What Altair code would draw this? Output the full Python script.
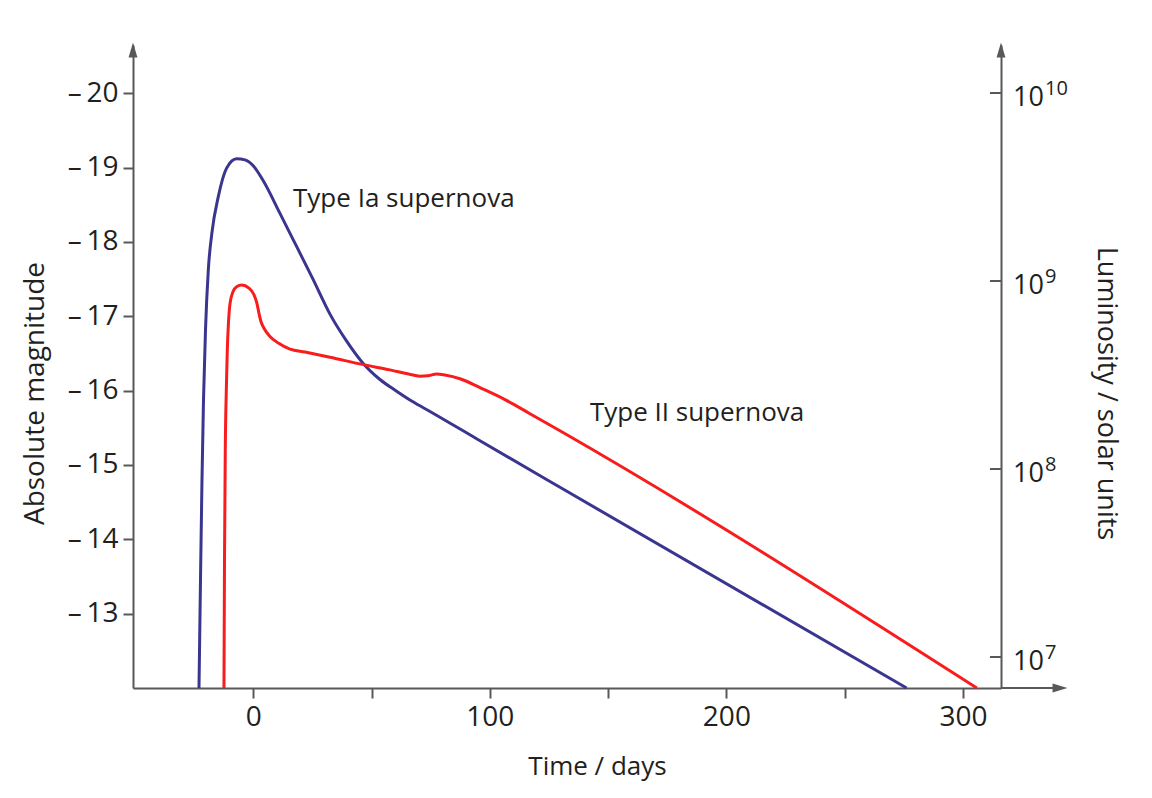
import altair as alt
import pandas as pd

# ---------------- data ----------------
ia_day = [-22.95, -22.32, -21.69, -21.05, -20.21, -19.02, -17.46, -14.79, -11.33, -7.02,
          -3.51, -0.13, 4.10, 11.28, 18.47, 25.23, 32.42, 39.61, 46.37, 53.56, 60.74,
          67.51, 74.70, 94.57, 129.65, 276.2]
ia_mag = [-12.0, -13.45, -14.79, -15.87, -16.81, -17.62, -18.13, -18.61, -18.99, -19.12,
          -19.105, -19.03, -18.83, -18.385, -17.93, -17.50, -17.03, -16.66, -16.37, -16.15, -15.99,
          -15.85, -15.72, -15.35, -14.70, -12.0]

ii_day = [-12.39, -12.17, -11.84, -11.41, -10.99, -10.48, -9.85, -8.58, -6.89, -4.90,
          -1.82, 0.30, 1.56, 2.41, 3.25, 4.52, 7.06, 10.57, 15.51, 21.85, 32.42, 46.50,
          57.78, 67.63, 70.46, 73.85, 77.52, 81.03, 87.37, 95.83, 106.40, 116.97, 129.65, 305.91]
ii_mag = [-12.0, -13.715, -15.195, -16.00, -16.54, -16.92, -17.17, -17.33, -17.40, -17.42,
          -17.38, -17.29, -17.17, -17.04, -16.93, -16.84, -16.73, -16.64, -16.56, -16.52, -16.45, -16.35,
          -16.28, -16.21, -16.195, -16.20, -16.225, -16.21, -16.16, -16.04, -15.88, -15.69, -15.46, -12.0]

series_names = ["Type Ia", "Type II"]
series_colors = ["#3a358f", "#f81c1c"]

x_tick_values = [0, 50, 100, 150, 200, 250, 300]
mag_tick_values = [-13, -14, -15, -16, -17, -18, -19, -20]
lum_tick_values = [1e7, 1e8, 1e9, 1e10]
lum_exponents = ["7", "8", "9", "10"]

curve_labels = ["Type Ia supernova", "Type II supernova"]
curve_label_day = [16.8, 142.3]
curve_label_mag = [-18.47, -15.59]

# ---------------- layout ----------------
W, H = 868, 643
GRAY = "#585858"
TXT = "#231f20"
FONT = "Open Sans"

curves = pd.DataFrame(
    [{"day": d, "mag": m, "series": series_names[0]} for d, m in zip(ia_day, ia_mag)]
    + [{"day": d, "mag": m, "series": series_names[1]} for d, m in zip(ii_day, ii_mag)]
)
labels_df = pd.DataFrame({"day": curve_label_day, "mag": curve_label_mag, "text": curve_labels})
lum_df = pd.DataFrame({"lum": lum_tick_values, "exp": lum_exponents})
one = lum_df.head(1)

xscale = alt.Scale(domain=[-50.85, 316.1], nice=False, zero=False)
yscale = alt.Scale(domain=[-12.0, -20.65], nice=False, zero=False)
lumscale = alt.Scale(type="log", domain=[10 ** 6.8351, 10 ** 10.2553], nice=False)

x_axis = alt.Axis(
    values=x_tick_values, labelExpr="datum.value % 100 == 0 ? datum.label : ''",
    title="Time / days", tickSize=10, tickWidth=2, tickColor=GRAY,
    domainColor=GRAY, domainWidth=2, grid=False, labelFlush=False, labelOverlap=False,
    labelFont=FONT, labelFontSize=28, labelColor=TXT, labelPadding=5,
    titleFont=FONT, titleFontSize=26, titleFontWeight="normal", titleColor=TXT,
    titleX=464, titleY=78, titleAlign="center", titleBaseline="middle",
)
y_axis = alt.Axis(
    values=mag_tick_values, title="Absolute magnitude", tickSize=10, tickWidth=2,
    tickColor=GRAY, domainColor=GRAY, domainWidth=2, grid=False, labelOverlap=False,
    labelFlush=False, labelFont=FONT, labelFontSize=28, labelColor=TXT, labelPadding=5,
    labelExpr="'\u2013\u2009' + abs(datum.value)",
    titleFont=FONT, titleFontSize=28, titleFontWeight="normal", titleColor=TXT,
    titleAngle=270, titleX=-98, titleY=348, titleAlign="center", titleBaseline="middle",
)

X = alt.X("day:Q", scale=xscale, axis=x_axis)
Y = alt.Y("mag:Q", scale=yscale, axis=y_axis)

lines = alt.Chart(curves).mark_line(interpolate="monotone", strokeWidth=3).encode(
    x=X, y=Y,
    color=alt.Color("series:N", scale=alt.Scale(domain=series_names, range=series_colors), legend=None),
)

texts = alt.Chart(labels_df).mark_text(
    align="left", baseline="alphabetic", font=FONT, fontSize=26, color=TXT
).encode(x=X, y=Y, text="text:N")

# axis arrows (decoration)
x_ext = alt.Chart(one).mark_rule(color=GRAY, strokeWidth=2).encode(
    x=alt.value(W), x2=alt.value(W + 58), y=alt.value(H)
)
arrow_up = "M0,-1L0.6,1L-0.6,1Z"
arrow_right = "M1,0L-1,-0.6L-1,0.6Z"
ARR = 220
arr_left = alt.Chart(one).mark_point(shape=arrow_up, filled=True, size=ARR, color=GRAY, opacity=1).encode(
    x=alt.value(0), y=alt.value(5)
)
arr_right_axis = alt.Chart(one).mark_point(shape=arrow_up, filled=True, size=ARR, color=GRAY, opacity=1).encode(
    x=alt.value(W), y=alt.value(5)
)
arr_x = alt.Chart(one).mark_point(shape=arrow_right, filled=True, size=ARR, color=GRAY, opacity=1).encode(
    x=alt.value(W + 59), y=alt.value(H)
)

main = alt.layer(lines, texts, x_ext, arr_left, arr_right_axis, arr_x)

# right luminosity axis
lum_axis = alt.Axis(
    orient="right", ticks=False, labels=False, domainColor=GRAY, domainWidth=2, grid=False,
    title="Luminosity / solar units", titleFont=FONT, titleFontSize=27,
    titleFontWeight="normal", titleColor=TXT, titleAngle=90, titleX=104, titleY=348,
    titleAlign="center", titleBaseline="middle",
)
LY = alt.Y("lum:Q", scale=lumscale, axis=lum_axis)
lum_ticks = alt.Chart(lum_df).mark_rule(color=GRAY, strokeWidth=2).encode(
    y=LY, x=alt.value(W - 11), x2=alt.value(W),
)
lum_base = alt.Chart(lum_df).mark_text(
    align="left", baseline="alphabetic", dy=13.5, font=FONT, fontSize=27, color=TXT
).encode(y=LY, x=alt.value(W + 12), text=alt.value("10"))
lum_exp = alt.Chart(lum_df).mark_text(
    align="left", baseline="alphabetic", dy=2, font=FONT, fontSize=20, color=TXT
).encode(y=LY, x=alt.value(W + 44), text="exp:N")
right = alt.layer(lum_ticks, lum_base, lum_exp)

chart = alt.layer(main, right).resolve_scale(y="independent").properties(
    width=W, height=H,
    autosize=alt.AutoSizeParams(type="none"),
    padding={"left": 133, "top": 45, "right": 151, "bottom": 110},
    background="white",
).configure_view(stroke=None)

chart.save("out.html", embed_options={"renderer": "svg", "actions": False})
